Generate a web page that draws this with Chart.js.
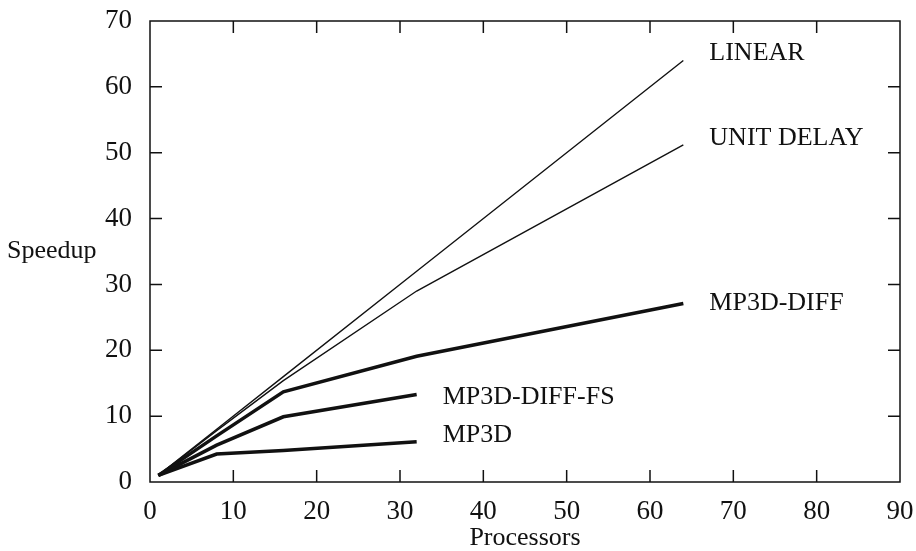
<!DOCTYPE html>
<html>
<head>
<meta charset="utf-8">
<script src="https://cdn.jsdelivr.net/npm/chart.js@4"></script>
<style>
  body { margin: 0; background: #fff; }
  #wrap { width: 916px; height: 551px; }
</style>
</head>
<body>
<div id="wrap"><canvas id="speedupChart"></canvas></div>
<script>
// data
const processors = [1, 8, 16, 32, 64];
const linear = [1, 8, 16, 32, 64];
const unitDelay = [1, 7.8, 15.4, 29, 51.2];
const mp3dDiff = [1, 7, 13.7, 19.1, 27.1];
const mp3dDiffFs = [1, 5.6, 9.9, 13.3];
const mp3d = [1, 4.25, 4.8, 6.1];
const seriesNames = ["LINEAR", "UNIT DELAY", "MP3D-DIFF", "MP3D-DIFF-FS", "MP3D"];
const xTicks = [0, 10, 20, 30, 40, 50, 60, 70, 80, 90];
const yTicks = [0, 10, 20, 30, 40, 50, 60, 70];

const FONT = "'Liberation Serif', 'Times New Roman', serif";
const INK = "#111";

function points(ys) {
  return ys.map((y, i) => ({ x: processors[i], y: y }));
}

function makeSet(label, ys, width, dy) {
  return {
    label: label,
    data: points(ys),
    borderColor: INK,
    borderWidth: width,
    pointRadius: 0,
    tension: 0,
    fill: false,
    labelDy: dy,
  };
}

// end-of-line labels, inward ticks, frame and axis titles
const decorations = {
  id: "decorations",
  afterDatasetsDraw(chart) {
    const ctx = chart.ctx;
    const area = chart.chartArea;
    const xs = chart.scales.x;
    const ys = chart.scales.y;
    ctx.save();
    ctx.strokeStyle = INK;
    ctx.lineWidth = 1.5;
    ctx.strokeRect(area.left, area.top, area.right - area.left, area.bottom - area.top);

    const tick = 12;
    ctx.beginPath();
    xTicks.slice(1, -1).forEach(v => {
      const px = xs.getPixelForValue(v);
      ctx.moveTo(px, area.bottom); ctx.lineTo(px, area.bottom - tick);
      ctx.moveTo(px, area.top); ctx.lineTo(px, area.top + tick);
    });
    yTicks.slice(1, -1).forEach(v => {
      const py = ys.getPixelForValue(v);
      ctx.moveTo(area.left, py); ctx.lineTo(area.left + tick, py);
      ctx.moveTo(area.right, py); ctx.lineTo(area.right - tick, py);
    });
    ctx.stroke();

    ctx.fillStyle = INK;
    ctx.font = "26px " + FONT;
    ctx.textBaseline = "middle";
    ctx.textAlign = "left";
    chart.data.datasets.forEach((ds, i) => {
      const pts = chart.getDatasetMeta(i).data;
      const last = pts[pts.length - 1];
      ctx.fillText(ds.label, last.x + 26, last.y + ds.labelDy);
    });

    ctx.fillText("Speedup", 7, ys.getPixelForValue(35));
    ctx.textAlign = "center";
    ctx.fillText("Processors", (area.left + area.right) / 2, 538);
    ctx.restore();
  }
};

new Chart(document.getElementById("speedupChart"), {
  type: "line",
  data: {
    datasets: [
      makeSet(seriesNames[0], linear, 1.4, -7),
      makeSet(seriesNames[1], unitDelay, 1.4, -7),
      makeSet(seriesNames[2], mp3dDiff, 3.5, 0),
      makeSet(seriesNames[3], mp3dDiffFs, 3.5, 3),
      makeSet(seriesNames[4], mp3d, 3.5, -7),
    ],
  },
  options: {
    responsive: true,
    maintainAspectRatio: false,
    animation: false,
    layout: { padding: { top: 21, right: 16, left: 0, bottom: 0 } },
    plugins: {
      legend: { display: false },
      tooltip: { enabled: false },
    },
    scales: {
      x: {
        type: "linear",
        min: 0,
        max: 90,
        grid: { display: false },
        border: { display: false },
        afterBuildTicks: s => { s.ticks = xTicks.map(v => ({ value: v })); },
        afterFit: s => { s.height = 69; s.paddingLeft = 0; s.paddingRight = 0; },
        ticks: {
          color: INK,
          padding: 6,
          maxRotation: 0,
          font: { family: FONT, size: 27 },
        },
      },
      y: {
        min: 0,
        max: 70,
        grid: { display: false },
        border: { display: false },
        afterBuildTicks: s => { s.ticks = yTicks.map(v => ({ value: v })); },
        afterFit: s => { s.width = 150; s.paddingTop = 0; s.paddingBottom = 0; },
        ticks: {
          color: INK,
          padding: 10,
          font: { family: FONT, size: 27 },
        },
      },
    },
  },
  plugins: [decorations],
});
</script>
</body>
</html>
